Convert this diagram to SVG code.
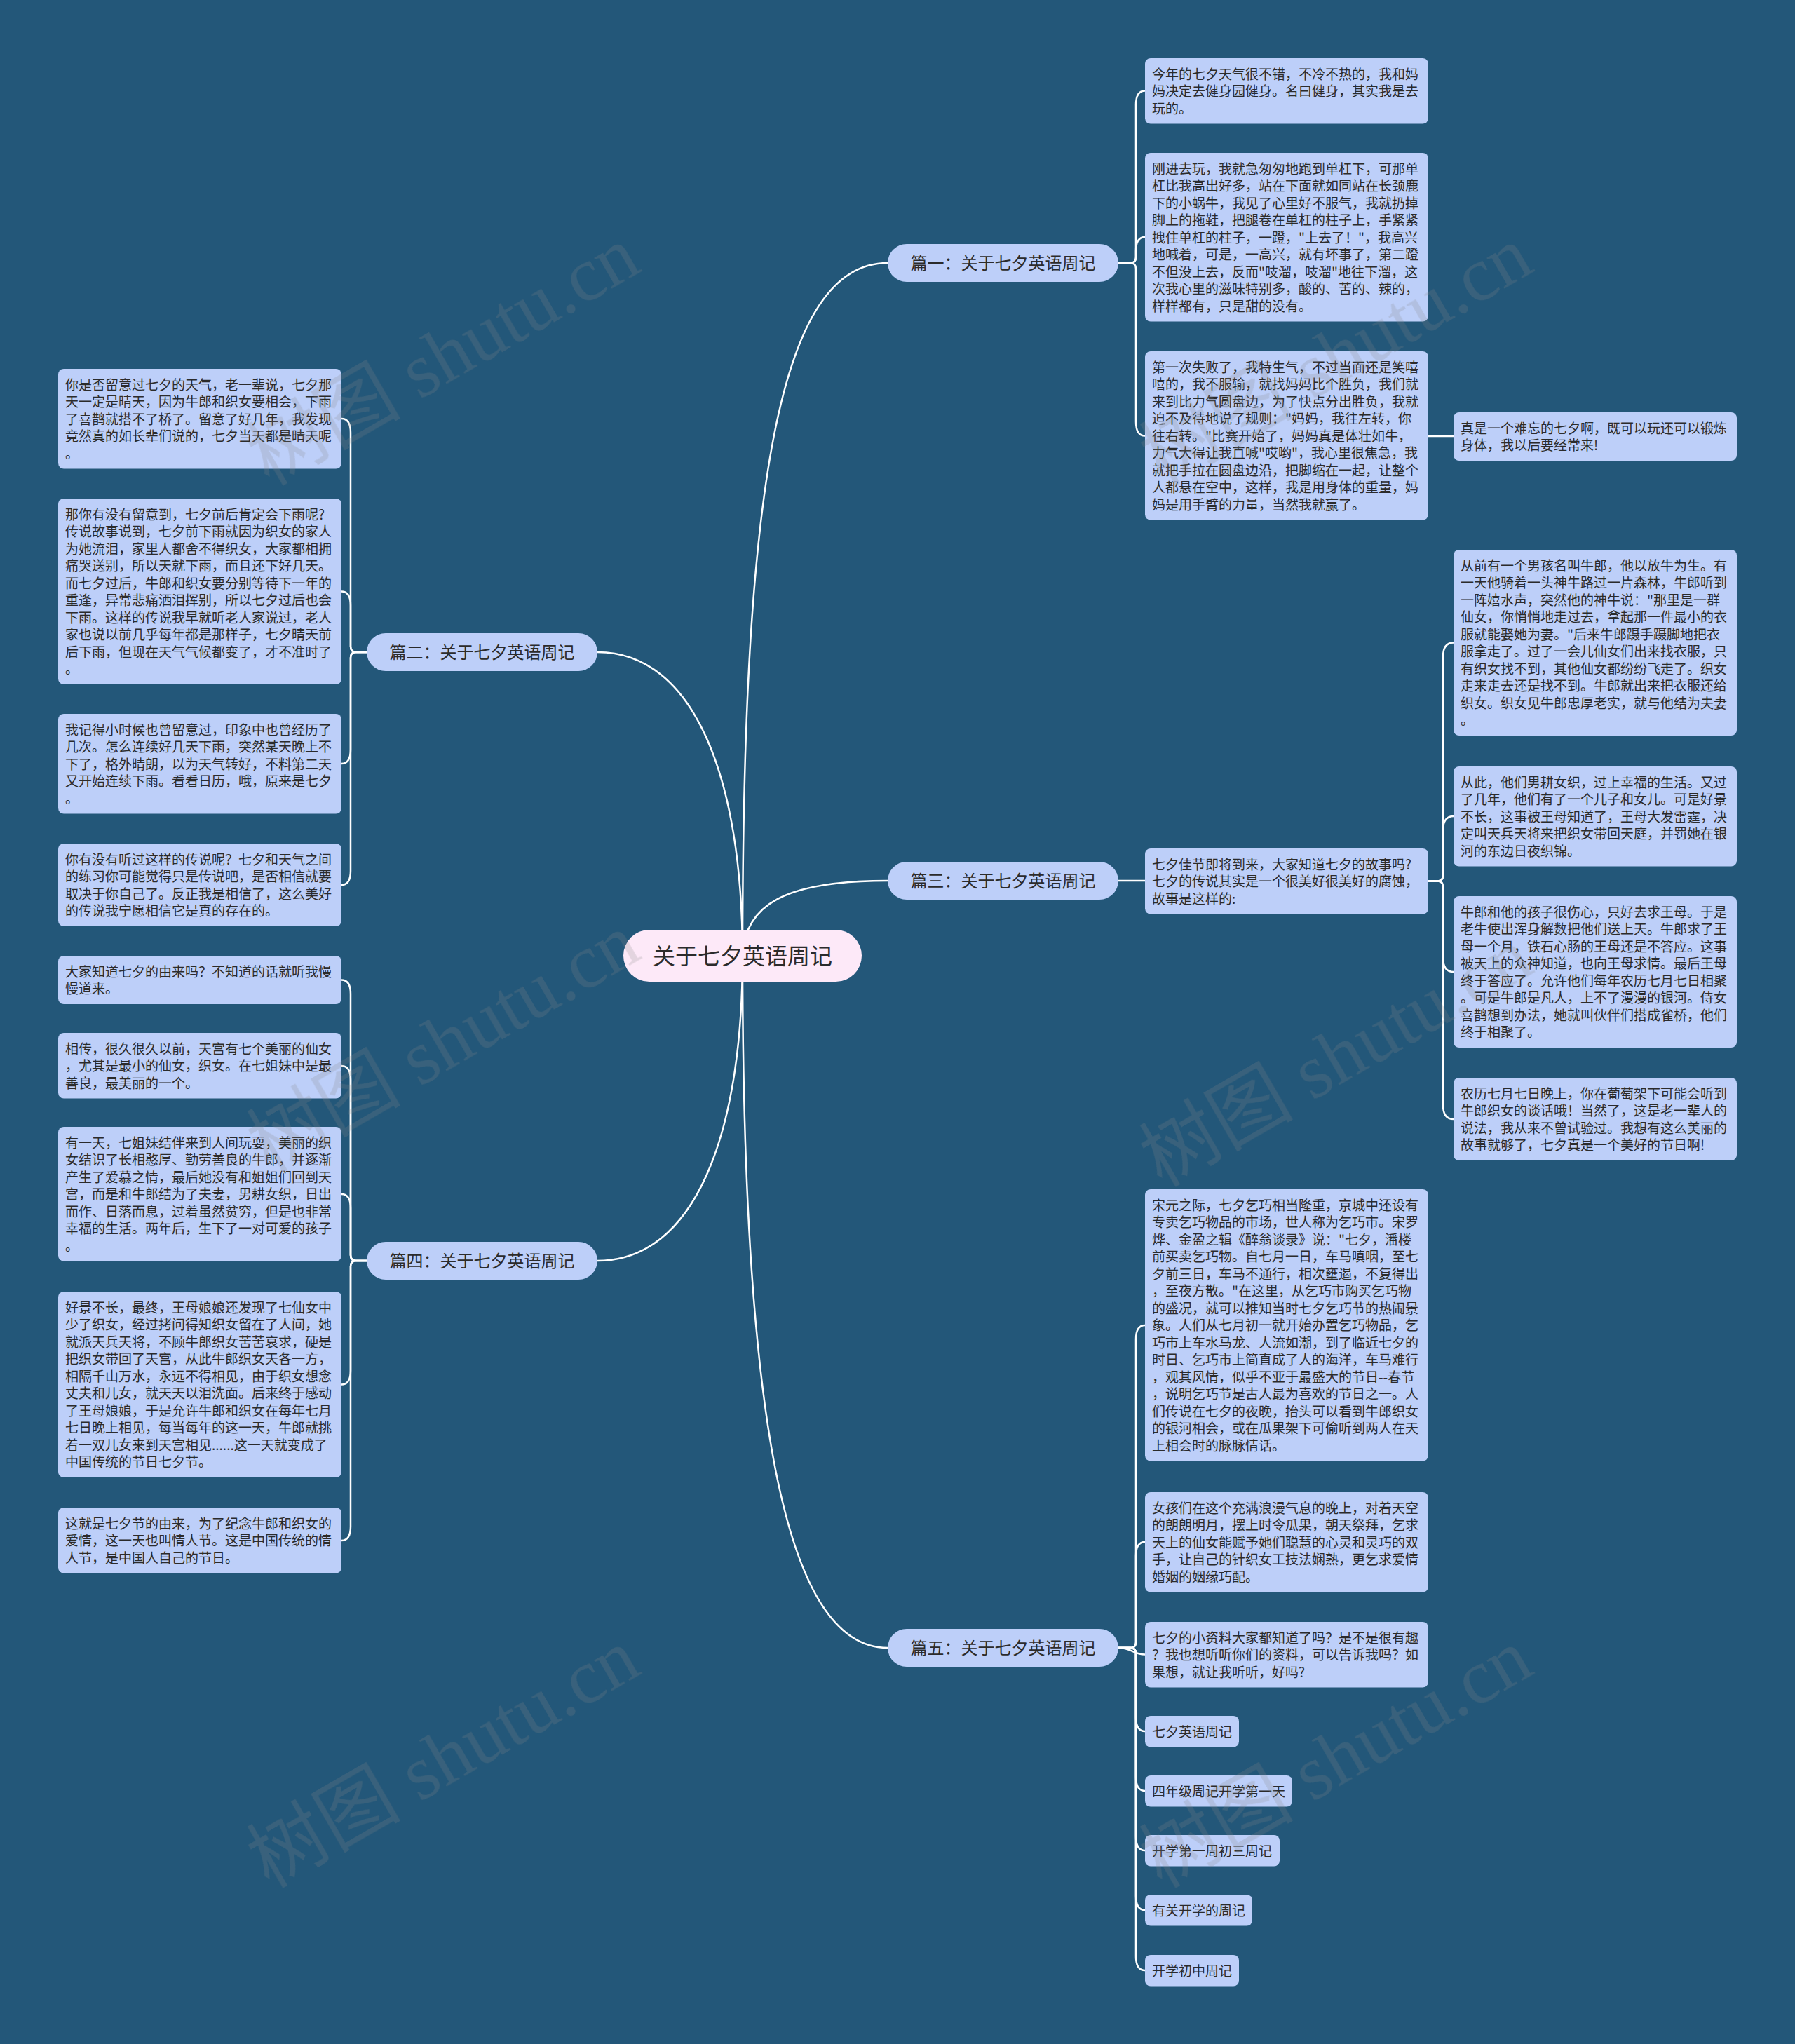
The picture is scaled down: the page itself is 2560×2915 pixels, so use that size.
<svg xmlns="http://www.w3.org/2000/svg" width="2560" height="2915" viewBox="0 0 2560 2915">
<style>
.bg{fill:#235779}
.box{fill:#bdcff9}
.root{fill:#fde9f8}
.t{font-family:"Noto Sans CJK SC","Noto Sans",sans-serif;font-size:19px;fill:#2b2b2b}
.lbl{font-family:"Noto Sans CJK SC","Noto Sans",sans-serif;font-size:24px;fill:#2b2b2b;text-anchor:middle}
.rt{font-family:"Noto Sans CJK SC","Noto Sans",sans-serif;font-size:32px;fill:#2b2b2b;text-anchor:middle}
.conn path{fill:none;stroke:#ffffff;stroke-width:2.5}
.wm{font-family:"Liberation Serif","Noto Sans CJK SC",serif;font-size:110px;fill:#8a8a8a;opacity:0.22}
</style>
<rect class="bg" x="0" y="0" width="2560" height="2915"/>

<g id="connectors" class="conn">
<path d="M1059 1363 C1059 700 1110 375 1266 375"/>
<path d="M1059 1363 C1062 1290 1120 1256 1266 1256"/>
<path d="M1059 1363 C1059 2000 1115 2350 1266 2350"/>
<path d="M1059 1363 C1059 1110 990 930 852 930"/>
<path d="M1059 1363 C1059 1620 990 1798 852 1798"/>

<path d="M1595 375 H1612 Q1620 375 1620 367 V149.5 Q1620 129.5 1633 129.5"/>
<path d="M1595 375 H1612 Q1620 375 1620 367 V358 Q1620 338 1633 338"/>
<path d="M1595 375 H1612 Q1620 375 1620 383 V601.5 Q1620 621.5 1633 621.5"/>
<path d="M2037 622 H2073"/>

<path d="M1595 1256 H1633"/>
<path d="M2037 1256.5 H2050 Q2058 1256.5 2058 1248.5 V936.5 Q2058 916.5 2073 916.5"/>
<path d="M2037 1256.5 H2050 Q2058 1256.5 2058 1248.5 V1184 Q2058 1164 2073 1164"/>
<path d="M2037 1256.5 H2050 Q2058 1256.5 2058 1264.5 V1366 Q2058 1386 2073 1386"/>
<path d="M2037 1256.5 H2050 Q2058 1256.5 2058 1264.5 V1576 Q2058 1596 2073 1596"/>

<path d="M1595 2350 H1612 Q1620 2350 1620 2342 V1910 Q1620 1890 1633 1890"/>
<path d="M1595 2350 H1612 Q1620 2350 1620 2342 V2219 Q1620 2199 1633 2199"/>
<path d="M1595 2350 C1615 2350 1615 2359.5 1633 2359.5"/>
<path d="M1595 2350 H1612 Q1620 2350 1620 2358 V2449 Q1620 2469 1633 2469"/>
<path d="M1595 2350 H1612 Q1620 2350 1620 2358 V2534 Q1620 2554 1633 2554"/>
<path d="M1595 2350 H1612 Q1620 2350 1620 2358 V2619 Q1620 2639 1633 2639"/>
<path d="M1595 2350 H1612 Q1620 2350 1620 2358 V2704 Q1620 2724 1633 2724"/>
<path d="M1595 2350 H1612 Q1620 2350 1620 2358 V2790 Q1620 2810 1633 2810"/>

<path d="M524 930 H508 Q500 930 500 922 V617 Q500 597 487 597"/>
<path d="M524 930 H508 Q500 930 500 922 V863.5 Q500 843.5 487 843.5"/>
<path d="M524 930 H508 Q500 930 500 938 V1069 Q500 1089 487 1089"/>
<path d="M524 930 H508 Q500 930 500 938 V1242 Q500 1262 487 1262"/>

<path d="M524 1798 H508 Q500 1798 500 1790 V1417.5 Q500 1397.5 487 1397.5"/>
<path d="M524 1798 H508 Q500 1798 500 1790 V1540 Q500 1520 487 1520"/>
<path d="M524 1798 H508 Q500 1798 500 1790 V1723 Q500 1703 487 1703"/>
<path d="M524 1798 H508 Q500 1798 500 1806 V1954.5 Q500 1974.5 487 1974.5"/>
<path d="M524 1798 H508 Q500 1798 500 1806 V2177 Q500 2197 487 2197"/>
</g>

<g id="root">
<rect class="root" x="889" y="1326" width="340" height="74" rx="37"/>
<text class="rt" x="1059" y="1375">关于七夕英语周记</text>
</g>

<g id="b1"><rect class="box" x="1266" y="348" width="329" height="54" rx="27"/><text class="lbl" x="1430.5" y="384">篇一：关于七夕英语周记</text></g>
<g id="b2"><rect class="box" x="523" y="903" width="329" height="54" rx="27"/><text class="lbl" x="687.5" y="939">篇二：关于七夕英语周记</text></g>
<g id="b3"><rect class="box" x="1266" y="1229" width="329" height="54" rx="27"/><text class="lbl" x="1430.5" y="1265">篇三：关于七夕英语周记</text></g>
<g id="b4"><rect class="box" x="523" y="1771" width="329" height="54" rx="27"/><text class="lbl" x="687.5" y="1807">篇四：关于七夕英语周记</text></g>
<g id="b5"><rect class="box" x="1266" y="2323" width="329" height="54" rx="27"/><text class="lbl" x="1430.5" y="2359">篇五：关于七夕英语周记</text></g>

<g id="n1a"><rect class="box" x="1633" y="83" width="404" height="93.5" rx="8"/>
<text class="t" x="1643" y="112.5"><tspan x="1643">今年的七夕天气很不错，不冷不热的，我和妈</tspan><tspan x="1643" dy="24.5">妈决定去健身园健身。名曰健身，其实我是去</tspan><tspan x="1643" dy="24.5">玩的。</tspan></text></g>

<g id="n1b"><rect class="box" x="1633" y="218" width="404" height="240.5" rx="8"/>
<text class="t" x="1643" y="247.5"><tspan x="1643">刚进去玩，我就急匆匆地跑到单杠下，可那单</tspan><tspan x="1643" dy="24.5">杠比我高出好多，站在下面就如同站在长颈鹿</tspan><tspan x="1643" dy="24.5">下的小蜗牛，我见了心里好不服气，我就扔掉</tspan><tspan x="1643" dy="24.5">脚上的拖鞋，把腿卷在单杠的柱子上，手紧紧</tspan><tspan x="1643" dy="24.5">拽住单杠的柱子，一蹬，"上去了！"，我高兴</tspan><tspan x="1643" dy="24.5">地喊着，可是，一高兴，就有坏事了，第二蹬</tspan><tspan x="1643" dy="24.5">不但没上去，反而"吱溜，吱溜"地往下溜，这</tspan><tspan x="1643" dy="24.5">次我心里的滋味特别多，酸的、苦的、辣的，</tspan><tspan x="1643" dy="24.5">样样都有，只是甜的没有。</tspan></text></g>

<g id="n1c"><rect class="box" x="1633" y="501" width="404" height="240.5" rx="8"/>
<text class="t" x="1643" y="530.5"><tspan x="1643">第一次失败了，我特生气，不过当面还是笑嘻</tspan><tspan x="1643" dy="24.5">嘻的，我不服输，就找妈妈比个胜负，我们就</tspan><tspan x="1643" dy="24.5">来到比力气圆盘边，为了快点分出胜负，我就</tspan><tspan x="1643" dy="24.5">迫不及待地说了规则："妈妈，我往左转，你</tspan><tspan x="1643" dy="24.5">往右转。"比赛开始了，妈妈真是体壮如牛，</tspan><tspan x="1643" dy="24.5">力气大得让我直喊"哎哟"，我心里很焦急，我</tspan><tspan x="1643" dy="24.5">就把手拉在圆盘边沿，把脚缩在一起，让整个</tspan><tspan x="1643" dy="24.5">人都悬在空中，这样，我是用身体的重量，妈</tspan><tspan x="1643" dy="24.5">妈是用手臂的力量，当然我就赢了。</tspan></text></g>

<g id="n1c1"><rect class="box" x="2073" y="588" width="404" height="69" rx="8"/>
<text class="t" x="2083" y="617.5"><tspan x="2083">真是一个难忘的七夕啊，既可以玩还可以锻炼</tspan><tspan x="2083" dy="24.5">身体，我以后要经常来!</tspan></text></g>

<g id="n3"><rect class="box" x="1633" y="1210" width="404" height="93.5" rx="8"/>
<text class="t" x="1643" y="1239.5"><tspan x="1643">七夕佳节即将到来，大家知道七夕的故事吗?</tspan><tspan x="1643" dy="24.5">七夕的传说其实是一个很美好很美好的腐蚀，</tspan><tspan x="1643" dy="24.5">故事是这样的:</tspan></text></g>

<g id="n3a"><rect class="box" x="2073" y="784" width="404" height="265" rx="8"/>
<text class="t" x="2083" y="813.5"><tspan x="2083">从前有一个男孩名叫牛郎，他以放牛为生。有</tspan><tspan x="2083" dy="24.5">一天他骑着一头神牛路过一片森林，牛郎听到</tspan><tspan x="2083" dy="24.5">一阵嬉水声，突然他的神牛说："那里是一群</tspan><tspan x="2083" dy="24.5">仙女，你悄悄地走过去，拿起那一件最小的衣</tspan><tspan x="2083" dy="24.5">服就能娶她为妻。"后来牛郎蹑手蹑脚地把衣</tspan><tspan x="2083" dy="24.5">服拿走了。过了一会儿仙女们出来找衣服，只</tspan><tspan x="2083" dy="24.5">有织女找不到，其他仙女都纷纷飞走了。织女</tspan><tspan x="2083" dy="24.5">走来走去还是找不到。牛郎就出来把衣服还给</tspan><tspan x="2083" dy="24.5">织女。织女见牛郎忠厚老实，就与他结为夫妻</tspan><tspan x="2083" dy="24.5">。</tspan></text></g>

<g id="n3b"><rect class="box" x="2073" y="1093" width="404" height="142.5" rx="8"/>
<text class="t" x="2083" y="1122.5"><tspan x="2083">从此，他们男耕女织，过上幸福的生活。又过</tspan><tspan x="2083" dy="24.5">了几年，他们有了一个儿子和女儿。可是好景</tspan><tspan x="2083" dy="24.5">不长，这事被王母知道了，王母大发雷霆，决</tspan><tspan x="2083" dy="24.5">定叫天兵天将来把织女带回天庭，并罚她在银</tspan><tspan x="2083" dy="24.5">河的东边日夜织锦。</tspan></text></g>

<g id="n3c"><rect class="box" x="2073" y="1278" width="404" height="216" rx="8"/>
<text class="t" x="2083" y="1307.5"><tspan x="2083">牛郎和他的孩子很伤心，只好去求王母。于是</tspan><tspan x="2083" dy="24.5">老牛使出浑身解数把他们送上天。牛郎求了王</tspan><tspan x="2083" dy="24.5">母一个月，铁石心肠的王母还是不答应。这事</tspan><tspan x="2083" dy="24.5">被天上的众神知道，也向王母求情。最后王母</tspan><tspan x="2083" dy="24.5">终于答应了。允许他们每年农历七月七日相聚</tspan><tspan x="2083" dy="24.5">。可是牛郎是凡人，上不了漫漫的银河。侍女</tspan><tspan x="2083" dy="24.5">喜鹊想到办法，她就叫伙伴们搭成雀桥，他们</tspan><tspan x="2083" dy="24.5">终于相聚了。</tspan></text></g>

<g id="n3d"><rect class="box" x="2073" y="1537" width="404" height="118" rx="8"/>
<text class="t" x="2083" y="1566.5"><tspan x="2083">农历七月七日晚上，你在葡萄架下可能会听到</tspan><tspan x="2083" dy="24.5">牛郎织女的谈话哦！当然了，这是老一辈人的</tspan><tspan x="2083" dy="24.5">说法，我从来不曾试验过。我想有这么美丽的</tspan><tspan x="2083" dy="24.5">故事就够了，七夕真是一个美好的节日啊!</tspan></text></g>

<g id="n5a"><rect class="box" x="1633" y="1696" width="404" height="387.5" rx="8"/>
<text class="t" x="1643" y="1725.5"><tspan x="1643">宋元之际，七夕乞巧相当隆重，京城中还设有</tspan><tspan x="1643" dy="24.5">专卖乞巧物品的市场，世人称为乞巧市。宋罗</tspan><tspan x="1643" dy="24.5">烨、金盈之辑《醉翁谈录》说："七夕，潘楼</tspan><tspan x="1643" dy="24.5">前买卖乞巧物。自七月一日，车马嗔咽，至七</tspan><tspan x="1643" dy="24.5">夕前三日，车马不通行，相次壅遏，不复得出</tspan><tspan x="1643" dy="24.5">，至夜方散。"在这里，从乞巧市购买乞巧物</tspan><tspan x="1643" dy="24.5">的盛况，就可以推知当时七夕乞巧节的热闹景</tspan><tspan x="1643" dy="24.5">象。人们从七月初一就开始办置乞巧物品，乞</tspan><tspan x="1643" dy="24.5">巧市上车水马龙、人流如潮，到了临近七夕的</tspan><tspan x="1643" dy="24.5">时日、乞巧市上简直成了人的海洋，车马难行</tspan><tspan x="1643" dy="24.5">，观其风情，似乎不亚于最盛大的节日--春节</tspan><tspan x="1643" dy="24.5">，说明乞巧节是古人最为喜欢的节日之一。人</tspan><tspan x="1643" dy="24.5">们传说在七夕的夜晚，抬头可以看到牛郎织女</tspan><tspan x="1643" dy="24.5">的银河相会，或在瓜果架下可偷听到两人在天</tspan><tspan x="1643" dy="24.5">上相会时的脉脉情话。</tspan></text></g>

<g id="n5b"><rect class="box" x="1633" y="2128" width="404" height="142.5" rx="8"/>
<text class="t" x="1643" y="2157.5"><tspan x="1643">女孩们在这个充满浪漫气息的晚上，对着天空</tspan><tspan x="1643" dy="24.5">的朗朗明月，摆上时令瓜果，朝天祭拜，乞求</tspan><tspan x="1643" dy="24.5">天上的仙女能赋予她们聪慧的心灵和灵巧的双</tspan><tspan x="1643" dy="24.5">手，让自己的针织女工技法娴熟，更乞求爱情</tspan><tspan x="1643" dy="24.5">婚姻的姻缘巧配。</tspan></text></g>

<g id="n5c"><rect class="box" x="1633" y="2313" width="404" height="93.5" rx="8"/>
<text class="t" x="1643" y="2342.5"><tspan x="1643">七夕的小资料大家都知道了吗？是不是很有趣</tspan><tspan x="1643" dy="24.5">？我也想听听你们的资料，可以告诉我吗？如</tspan><tspan x="1643" dy="24.5">果想，就让我听听，好吗?</tspan></text></g>

<g id="n5d"><rect class="box" x="1633" y="2447" width="134" height="44.5" rx="8"/><text class="t" x="1643" y="2476.5">七夕英语周记</text></g>
<g id="n5e"><rect class="box" x="1633" y="2532" width="210" height="44.5" rx="8"/><text class="t" x="1643" y="2561.5">四年级周记开学第一天</text></g>
<g id="n5f"><rect class="box" x="1633" y="2617" width="192" height="44.5" rx="8"/><text class="t" x="1643" y="2646.5">开学第一周初三周记</text></g>
<g id="n5g"><rect class="box" x="1633" y="2702" width="153" height="44.5" rx="8"/><text class="t" x="1643" y="2731.5">有关开学的周记</text></g>
<g id="n5h"><rect class="box" x="1633" y="2788" width="134" height="44.5" rx="8"/><text class="t" x="1643" y="2817.5">开学初中周记</text></g>

<g id="n2a"><rect class="box" x="83" y="526" width="404" height="142.5" rx="8"/>
<text class="t" x="93" y="555.5"><tspan x="93">你是否留意过七夕的天气，老一辈说，七夕那</tspan><tspan x="93" dy="24.5">天一定是晴天，因为牛郎和织女要相会，下雨</tspan><tspan x="93" dy="24.5">了喜鹊就搭不了桥了。留意了好几年，我发现</tspan><tspan x="93" dy="24.5">竟然真的如长辈们说的，七夕当天都是晴天呢</tspan><tspan x="93" dy="24.5">。</tspan></text></g>

<g id="n2b"><rect class="box" x="83" y="711" width="404" height="265" rx="8"/>
<text class="t" x="93" y="740.5"><tspan x="93">那你有没有留意到，七夕前后肯定会下雨呢?</tspan><tspan x="93" dy="24.5">传说故事说到，七夕前下雨就因为织女的家人</tspan><tspan x="93" dy="24.5">为她流泪，家里人都舍不得织女，大家都相拥</tspan><tspan x="93" dy="24.5">痛哭送别，所以天就下雨，而且还下好几天。</tspan><tspan x="93" dy="24.5">而七夕过后，牛郎和织女要分别等待下一年的</tspan><tspan x="93" dy="24.5">重逢，异常悲痛洒泪挥别，所以七夕过后也会</tspan><tspan x="93" dy="24.5">下雨。这样的传说我早就听老人家说过，老人</tspan><tspan x="93" dy="24.5">家也说以前几乎每年都是那样子，七夕晴天前</tspan><tspan x="93" dy="24.5">后下雨，但现在天气气候都变了，才不准时了</tspan><tspan x="93" dy="24.5">。</tspan></text></g>

<g id="n2c"><rect class="box" x="83" y="1018" width="404" height="142.5" rx="8"/>
<text class="t" x="93" y="1047.5"><tspan x="93">我记得小时候也曾留意过，印象中也曾经历了</tspan><tspan x="93" dy="24.5">几次。怎么连续好几天下雨，突然某天晚上不</tspan><tspan x="93" dy="24.5">下了，格外晴朗，以为天气转好，不料第二天</tspan><tspan x="93" dy="24.5">又开始连续下雨。看看日历，哦，原来是七夕</tspan><tspan x="93" dy="24.5">。</tspan></text></g>

<g id="n2d"><rect class="box" x="83" y="1203" width="404" height="118" rx="8"/>
<text class="t" x="93" y="1232.5"><tspan x="93">你有没有听过这样的传说呢？七夕和天气之间</tspan><tspan x="93" dy="24.5">的练习你可能觉得只是传说吧，是否相信就要</tspan><tspan x="93" dy="24.5">取决于你自己了。反正我是相信了，这么美好</tspan><tspan x="93" dy="24.5">的传说我宁愿相信它是真的存在的。</tspan></text></g>

<g id="n4a"><rect class="box" x="83" y="1363" width="404" height="69" rx="8"/>
<text class="t" x="93" y="1392.5"><tspan x="93">大家知道七夕的由来吗？不知道的话就听我慢</tspan><tspan x="93" dy="24.5">慢道来。</tspan></text></g>

<g id="n4b"><rect class="box" x="83" y="1473" width="404" height="93.5" rx="8"/>
<text class="t" x="93" y="1502.5"><tspan x="93">相传，很久很久以前，天宫有七个美丽的仙女</tspan><tspan x="93" dy="24.5">，尤其是最小的仙女，织女。在七姐妹中是最</tspan><tspan x="93" dy="24.5">善良，最美丽的一个。</tspan></text></g>

<g id="n4c"><rect class="box" x="83" y="1607" width="404" height="191.5" rx="8"/>
<text class="t" x="93" y="1636.5"><tspan x="93">有一天，七姐妹结伴来到人间玩耍，美丽的织</tspan><tspan x="93" dy="24.5">女结识了长相憨厚、勤劳善良的牛郎，并逐渐</tspan><tspan x="93" dy="24.5">产生了爱慕之情，最后她没有和姐姐们回到天</tspan><tspan x="93" dy="24.5">宫，而是和牛郎结为了夫妻，男耕女织，日出</tspan><tspan x="93" dy="24.5">而作、日落而息，过着虽然贫穷，但是也非常</tspan><tspan x="93" dy="24.5">幸福的生活。两年后，生下了一对可爱的孩子</tspan><tspan x="93" dy="24.5">。</tspan></text></g>

<g id="n4d"><rect class="box" x="83" y="1842" width="404" height="265" rx="8"/>
<text class="t" x="93" y="1871.5"><tspan x="93">好景不长，最终，王母娘娘还发现了七仙女中</tspan><tspan x="93" dy="24.5">少了织女，经过拷问得知织女留在了人间，她</tspan><tspan x="93" dy="24.5">就派天兵天将，不顾牛郎织女苦苦哀求，硬是</tspan><tspan x="93" dy="24.5">把织女带回了天宫，从此牛郎织女天各一方，</tspan><tspan x="93" dy="24.5">相隔千山万水，永远不得相见，由于织女想念</tspan><tspan x="93" dy="24.5">丈夫和儿女，就天天以泪洗面。后来终于感动</tspan><tspan x="93" dy="24.5">了王母娘娘，于是允许牛郎和织女在每年七月</tspan><tspan x="93" dy="24.5">七日晚上相见，每当每年的这一天，牛郎就挑</tspan><tspan x="93" dy="24.5">着一双儿女来到天宫相见......这一天就变成了</tspan><tspan x="93" dy="24.5">中国传统的节日七夕节。</tspan></text></g>

<g id="n4e"><rect class="box" x="83" y="2150" width="404" height="93.5" rx="8"/>
<text class="t" x="93" y="2179.5"><tspan x="93">这就是七夕节的由来，为了纪念牛郎和织女的</tspan><tspan x="93" dy="24.5">爱情，这一天也叫情人节。这是中国传统的情</tspan><tspan x="93" dy="24.5">人节，是中国人自己的节日。</tspan></text></g>

<g id="watermark" class="wm" text-anchor="middle">
<text transform="translate(651 540) rotate(-30)">树图 shutu.cn</text>
<text transform="translate(651 1520) rotate(-30)">树图 shutu.cn</text>
<text transform="translate(651 2540) rotate(-30)">树图 shutu.cn</text>
<text transform="translate(1924 540) rotate(-30)">树图 shutu.cn</text>
<text transform="translate(1924 1540) rotate(-30)">树图 shutu.cn</text>
<text transform="translate(1924 2540) rotate(-30)">树图 shutu.cn</text>
</g>
</svg>
